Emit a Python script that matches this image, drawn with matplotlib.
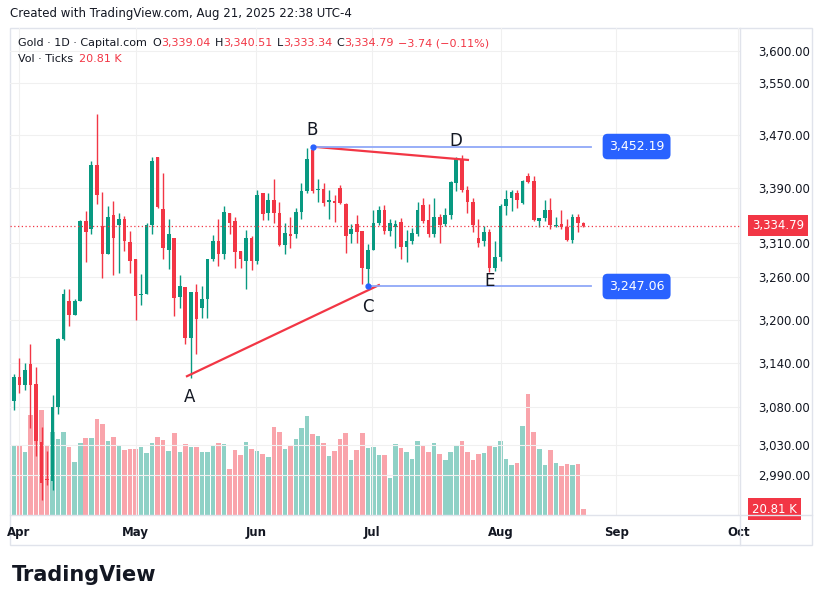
import matplotlib
matplotlib.use("Agg")
import matplotlib.pyplot as plt
from matplotlib.patches import Rectangle
from matplotlib.ticker import FixedLocator, NullLocator, NullFormatter

# daily OHLC, Apr 1 .. Aug 21 2025
opens = [3088, 3121, 3110, 3139, 3111, 3034, 2985, 2982, 3080, 3173, 3227, 3207, 3227, 3341, 3330, 3425, 3334, 3293, 3350, 3335, 3345, 3311, 3286,
         3235, 3236, 3335, 3436, 3359, 3300, 3317, 3232, 3247, 3174, 3239, 3217, 3230, 3287, 3313, 3293, 3353, 3341, 3298, 3283, 3316, 3284, 3383, 3353,
         3372, 3353, 3307, 3322, 3322, 3355, 3385, 3447, 3387, 3389, 3370, 3371, 3390, 3366, 3322, 3337, 3327, 3272, 3300, 3339, 3358, 3327, 3333,
         3340, 3303, 3312, 3322, 3365, 3343, 3322, 3347, 3337, 3350, 3398, 3433, 3387, 3370, 3316, 3312, 3326, 3273, 3289, 3363, 3375, 3383, 3368, 3408,
         3400, 3341, 3346, 3357, 3334, 3337, 3333, 3314, 3348, 3339.04]
highs = [3125, 3147, 3140, 3166, 3134, 3054, 3021, 3097, 3174, 3243, 3244, 3229, 3343, 3356, 3431, 3502, 3384, 3364, 3371, 3353, 3349, 3327, 3287,
         3265, 3338, 3436, 3436, 3413, 3345, 3317, 3263, 3247, 3239, 3250, 3248, 3287, 3321, 3345, 3363, 3353, 3348, 3298, 3329, 3320, 3387, 3383, 3383,
         3403, 3370, 3339, 3348, 3361, 3398, 3450, 3452, 3403, 3398, 3387, 3380, 3394, 3368, 3337, 3350, 3327, 3308, 3358, 3363, 3365, 3344, 3343,
         3346, 3329, 3331, 3369, 3376, 3367, 3376, 3352, 3361, 3401, 3436, 3439, 3393, 3375, 3345, 3334, 3330, 3313, 3367, 3387, 3387, 3387, 3402, 3412,
         3408, 3346, 3372, 3376, 3347, 3358, 3345, 3352, 3352, 3340.51]
lows = [3076, 3099, 3103, 3052, 3015, 2957, 2977, 2970, 3071, 3172, 3192, 3207, 3227, 3282, 3323, 3366, 3259, 3293, 3263, 3266, 3298, 3266, 3200,
        3221, 3236, 3323, 3360, 3286, 3272, 3206, 3217, 3166, 3120, 3153, 3203, 3203, 3283, 3277, 3286, 3322, 3274, 3273, 3243, 3270, 3279, 3343, 3343,
        3339, 3305, 3293, 3302, 3317, 3345, 3382, 3382, 3370, 3363, 3345, 3340, 3366, 3295, 3310, 3310, 3251, 3247, 3300, 3335, 3322, 3320, 3302,
        3287, 3282, 3308, 3320, 3338, 3318, 3318, 3310, 3334, 3345, 3386, 3384, 3353, 3325, 3304, 3305, 3267, 3269, 3283, 3350, 3356, 3360, 3366, 3397,
        3341, 3333, 3342, 3330, 3333, 3330, 3313, 3309, 3325, 3333.34]
closes = [3121, 3110, 3131, 3110, 3035, 2980, 2983, 3080, 3173, 3236, 3207, 3227, 3341, 3325, 3424, 3379, 3293, 3347, 3317, 3345, 3313, 3283, 3234,
          3237, 3335, 3431, 3362, 3302, 3322, 3231, 3248, 3174, 3239, 3201, 3230, 3287, 3313, 3293, 3355, 3338, 3297, 3286, 3316, 3284, 3380, 3351, 3372,
          3353, 3306, 3324, 3320, 3355, 3386, 3433, 3386, 3388, 3368, 3372, 3368, 3368, 3320, 3330, 3325, 3273, 3300, 3339, 3357, 3327, 3338, 3337,
          3303, 3313, 3324, 3357, 3341, 3323, 3347, 3336, 3350, 3399, 3433, 3387, 3370, 3336, 3310, 3325, 3273, 3289, 3363, 3374, 3384, 3372, 3400, 3399,
          3343, 3346, 3357, 3335, 3336, 3333, 3314, 3348, 3338, 3334.79]
volumes_k = [243, 239, 219, 347, 323, 364, 239, 288, 264, 288, 236, 184, 250, 267, 267, 333, 316, 257, 271, 243, 226, 229, 229,
             236, 215, 250, 271, 260, 222, 285, 219, 246, 236, 236, 219, 219, 239, 250, 246, 160, 226, 208, 253, 229, 222, 212, 201,
             305, 288, 229, 239, 264, 302, 344, 281, 274, 250, 205, 222, 264, 285, 191, 226, 285, 232, 236, 208, 208, 128, 246,
             232, 219, 194, 257, 243, 219, 250, 212, 191, 219, 239, 257, 219, 191, 212, 215, 243, 236, 257, 194, 174, 180, 309, 420,
             288, 229, 174, 226, 180, 170, 177, 174, 177, 20.81]

month_labels = ["Apr", "May", "Jun", "Jul", "Aug", "Sep", "Oct"]
month_pos = [0.9, 22, 43.8, 64.7, 88, 108.9, 131]
price_ticks = [2990, 3030, 3080, 3140, 3200, 3260, 3310, 3390, 3470, 3550, 3600]

# drawing: A-C support, B-D resistance, two horizontal levels
ac_line = ([31.3, 66.0], [3122, 3249])
bd_line = ([54.0, 82.1], [3452, 3432])
level_hi = 3452.19
level_lo = 3247.06

UP = "#089981"
DN = "#f23645"
INK = "#131722"
W, H = 822, 604

fig = plt.figure(figsize=(W / 100, H / 100), dpi=100)
ax = fig.add_axes([10 / W, (H - 515) / H, 730 / W, 487 / H])
ax.set_yscale("log")
ax.set_xlim(-0.7, 131.3)
ax.set_ylim(2938, 3636)

# volume overlay
vax = ax.twinx()
vax.set_ylim(0, 1690)
vax.set_yticks([])
vax.set_xlim(ax.get_xlim())
for i, v in enumerate(volumes_k):
    col = UP if closes[i] >= opens[i] else DN
    vax.bar(i, v, width=0.82, color=col, alpha=0.45, linewidth=0)
for s in vax.spines.values():
    s.set_visible(False)

ax.set_zorder(vax.get_zorder() + 1)
ax.patch.set_visible(False)

for i in range(len(opens)):
    o, h, l, c = opens[i], highs[i], lows[i], closes[i]
    col = UP if c >= o else DN
    ax.plot([i, i], [l, h], color=col, linewidth=1, solid_capstyle="butt")
    lo, hi = min(o, c), max(o, c)
    if hi - lo < 1.5:
        hi = lo + 1.5
    ax.add_patch(Rectangle((i - 0.33, lo), 0.66, hi - lo, color=col, linewidth=0))

# grid
for p in price_ticks:
    ax.axhline(p, color="#f0f0f0", linewidth=0.8, zorder=-5)
for m in month_pos:
    ax.axvline(m, color="#f0f0f0", linewidth=0.8, zorder=-5)

ax.axhline(closes[-1], color=DN, linewidth=0.9, linestyle=(0, (1, 2)))

# annotations
ax.plot(*ac_line, color=DN, linewidth=1.6)
ax.plot(*bd_line, color=DN, linewidth=1.6)
ax.plot([54, 104.3], [level_hi, level_hi], color="#90a8f8", linewidth=1.3)
ax.plot([64, 104.3], [level_lo, level_lo], color="#90a8f8", linewidth=1.3)
ax.plot([54, 64], [level_hi, level_lo], "o", color="#2962ff", markersize=3.5)
for txt, x, y in [("A", 31.8, 3094), ("B", 54, 3478), ("C", 64, 3218), ("D", 79.9, 3460), ("E", 86.1, 3255)]:
    ax.text(x, y, txt, fontsize=12, ha="center", va="center", color=INK)
for val in [level_hi, level_lo]:
    ax.text(112.6, val, f"{val:,.2f}", fontsize=9, color="white", ha="center", va="center",
            bbox=dict(boxstyle="round,pad=0.5,rounding_size=0.4", fc="#2962ff", ec="none"))

# axes styling
ax.yaxis.set_major_locator(FixedLocator(price_ticks))
ax.yaxis.set_minor_locator(NullLocator())
ax.yaxis.set_minor_formatter(NullFormatter())
ax.set_yticklabels([f"{p:,.2f}" for p in price_ticks])
ax.yaxis.tick_right()
ax.tick_params(axis="y", length=0, pad=13, labelsize=8.5, labelcolor=INK)
ax.set_xticks(month_pos)
ax.set_xticklabels(month_labels)
ax.tick_params(axis="x", length=0, pad=8, labelsize=8.5, labelcolor=INK)
for lab in ax.get_xticklabels():
    lab.set_fontweight("bold")
for s in ax.spines.values():
    s.set_visible(False)

# right-side value tags
ax.text(1.016, closes[-1], "3,334.79", transform=ax.get_yaxis_transform(), fontsize=8.5,
        color="white", ha="left", va="center",
        bbox=dict(boxstyle="square,pad=0.35", fc=DN, ec="none"))
vax.text(1.016, volumes_k[-1], "20.81 K", transform=vax.get_yaxis_transform(), fontsize=8.5,
         color="white", ha="left", va="center",
         bbox=dict(boxstyle="square,pad=0.35", fc=DN, ec="none"))

# pane frame and separators
fig.add_artist(Rectangle((10 / W, (H - 545) / H), 802 / W, 517 / H, transform=fig.transFigure,
                         fill=False, ec="#e0e3eb", lw=1))
fig.add_artist(plt.Line2D([740 / W, 740 / W], [(H - 545) / H, (H - 28) / H], color="#e0e3eb", lw=1))
fig.add_artist(plt.Line2D([10 / W, 812 / W], [(H - 515) / H] * 2, color="#e0e3eb", lw=1))

# header
fig.text(10 / W, 1 - 14 / H, "Created with TradingView.com, Aug 21, 2025 22:38 UTC-4",
         fontsize=8.5, color=INK, va="center")

# legend rows, pieces laid out one after another
legend1 = [("Gold · 1D · Capital.com", INK, 0), ("O", INK, 4), ("3,339.04", DN, 0), ("H", INK, 3),
           ("3,340.51", DN, 0), ("L", INK, 3), ("3,333.34", DN, 0), ("C", INK, 3),
           ("3,334.79", DN, 0), ("−3.74 (−0.11%)", DN, 3)]
legend2 = [("Vol · Ticks", INK, 0), ("20.81 K", DN, 4)]
for parts, ypix in [(legend1, 46), (legend2, 62)]:
    prev = fig.text(18 / W, 1 - ypix / H, parts[0][0], fontsize=8, color=parts[0][1], va="baseline")
    for t, col, gap in parts[1:]:
        prev = ax.annotate(t, xy=(1, 0), xycoords=prev, xytext=(gap, 0),
                           textcoords="offset points", fontsize=8, color=col,
                           va="bottom", annotation_clip=False)

fig.text(12 / W, 1 - 575 / H, "TradingView", fontsize=15, fontweight="bold", color=INK, va="center")

fig.savefig("out.png", dpi=100)
